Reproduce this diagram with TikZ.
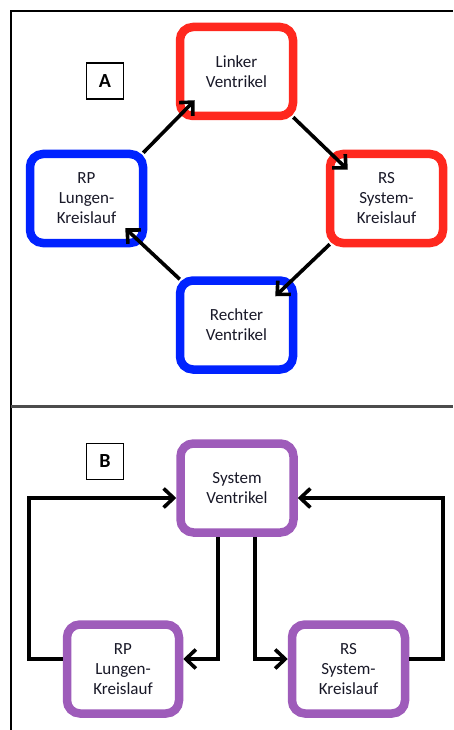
\documentclass[tikz,border=0pt]{standalone}
\usepackage{fontspec}
\setmainfont{Carlito}
\usetikzlibrary{arrows.meta,calc}
\definecolor{cred}{RGB}{255,40,30}
\definecolor{cblue}{RGB}{0,34,255}
\definecolor{cpurple}{RGB}{158,92,186}
\definecolor{ctext}{RGB}{25,25,40}
\begin{document}
\begin{tikzpicture}[x=1pt,y=-1pt,
  box/.style={draw, rectangle, rounded corners=13pt, line width=8.5pt, fill=white,
    minimum width=113pt, minimum height=89pt, inner sep=0pt, align=center,
    font=\fontsize{17}{20}\selectfont, text=ctext},
  lab/.style={draw=black, line width=1.4pt, minimum width=37pt, minimum height=36pt,
    inner sep=0pt, font=\bfseries\fontsize{20}{22}\selectfont},
  arr/.style={line width=3.6pt, -{Straight Barb[length=10pt,width=19pt,line width=3.6pt]}},
  frame/.style={line width=2.2pt}]
\useasboundingbox (0,0) rectangle (453,730);
% frame
\draw[frame] (11,730) -- (11,11) -- (453,11);
\draw[frame, black!70] (11,406.5) -- (453,406.5);
% Panel A
\node[lab] (la) at (105,81) {A};
\node[box, draw=cred] (lv) at (236.5,71.5) {Linker\\Ventrikel};
\node[box, draw=cblue] (rpa) at (86.5,198.5) {RP\\Lungen-\\Kreislauf};
\node[box, draw=cred] (rsa) at (386.5,198.5) {RS\\System-\\Kreislauf};
\node[box, draw=cblue] (rv) at (236.5,325) {Rechter\\Ventrikel};
\draw[arr] ($(rpa.north east)+(-4,3)$) -- ($(lv.south west)+(19,-20)$);
\draw[arr] ($(lv.south east)+(-4,-3)$) -- ($(rsa.north west)+(22,20)$);
\draw[arr] ($(rsa.south west)+(4,-3)$) -- ($(rv.north east)+(-22,20)$);
\draw[arr] ($(rv.north west)+(4,3)$) -- ($(rpa.south east)+(-22,-19)$);
% Panel B
\node[lab] (lb) at (105,461.5) {B};
\node[box, draw=cpurple] (sv) at (237,488) {System\\Ventrikel};
\node[box, draw=cpurple, minimum width=112pt] (rpb) at (123,669) {RP\\Lungen-\\Kreislauf};
\node[box, draw=cpurple] (rsb) at (348.5,669) {RS\\System-\\Kreislauf};
\coordinate (l1) at (29,659);
\coordinate (l2) at (29,498);
\coordinate (r1) at (443,659);
\coordinate (r2) at (443,498);
\coordinate (d1) at (218,659);
\coordinate (d2) at (255,659);
\draw[arr, line join=miter] (rpb.west|-l1) -- (l1) -- (l2) -- (sv.west|-l2);
\draw[arr, line join=miter] (rsb.east|-r1) -- (r1) -- (r2) -- (sv.east|-r2);
\draw[arr, line join=miter] (sv.south-|d1) -- (d1) -- (rpb.east|-d1);
\draw[arr, line join=miter] (sv.south-|d2) -- (d2) -- (rsb.west|-d2);
\end{tikzpicture}
\end{document}
